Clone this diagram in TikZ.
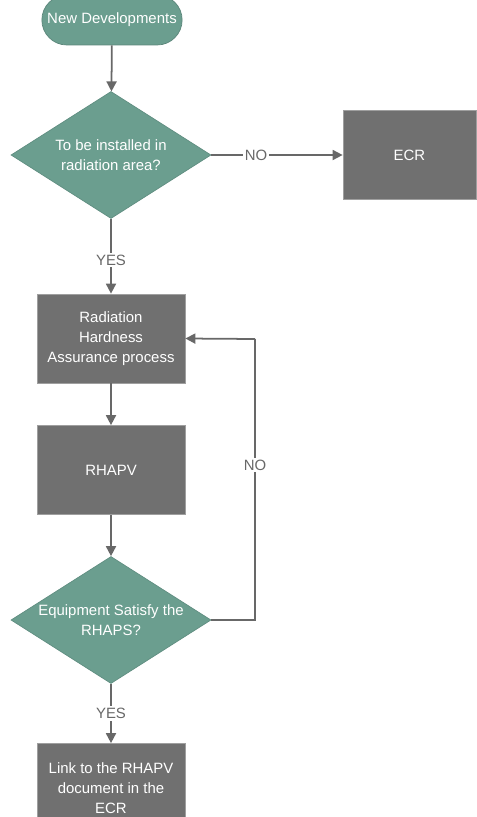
\documentclass[tikz,border=0pt]{standalone}
\usepackage{fontspec}
\setmainfont{Liberation Sans}
\usepackage{xcolor}
\usetikzlibrary{arrows.meta, positioning, shapes.geometric, shapes.misc}
\definecolor{flowteal}{RGB}{107, 158, 143}
\definecolor{flowgray}{RGB}{112, 112, 112}
\definecolor{flowline}{RGB}{104, 104, 104}

\begin{document}
\begin{tikzpicture}[
  every node/.style={font=\fontsize{8.5}{11.3}\selectfont},
  start/.style={rounded rectangle, fill=flowteal, draw=flowteal!85!black, text=white, minimum width=3.04cm, minimum height=1.0cm},
  decision/.style={diamond, aspect=1.59, fill=flowteal, draw=flowteal!90!black, text=white, align=center, inner sep=0pt, minimum width=4.0cm, minimum height=2.54cm},
  box/.style={rectangle, fill=flowgray, draw=gray!75, text=white, align=center, minimum width=2.96cm, minimum height=1.78cm},
  arrow/.style={-{Triangle[length=2mm, width=2mm]}, line width=1pt, color=flowline},
  link/.style={line width=1pt, color=flowline},
  label/.style={fill=white, text=flowline, inner sep=1pt}
]
  \useasboundingbox (0,0) rectangle (9.54,-16.34);

  \node[start] (new) at (2.24, -0.4) {New Developments};

  % Decisions and steps
  \node[decision] (area) at (2.22, -3.1) {To be installed in\\ radiation area?};
  \node[box, minimum width=2.66cm] (ecr) at (8.19, -3.1) {ECR};
  \node[box] (rha) at (2.22, -6.77) {Radiation\\ Hardness\\ Assurance process};
  \node[box] (rhapv) at (2.22, -9.4) {RHAPV};
  \node[decision] (sat) at (2.22, -12.4) {Equipment Satisfy the\\ RHAPS?};
  \node[box] (link) at (2.22, -15.76) {Link to the RHAPV\\ document in the\\ ECR};

  \coordinate (loopB) at (5.1, -12.4);
  \coordinate (loopT) at (5.1, -6.78);

  \draw[arrow] (new) -- (area);
  \draw[arrow] (area) -- (ecr) node[label, pos=0.34] {NO};
  \draw[arrow] (area) -- (rha) node[label, pos=0.55] {YES};
  \draw[arrow] (rha) -- (rhapv);
  \draw[arrow] (rhapv) -- (sat);
  \draw[arrow] (sat) -- (link) node[label, pos=0.5] {YES};
  \draw[link] (sat.east) -- (loopB) -- (loopT) node[label, pos=0.55] {NO};
  \draw[arrow] (loopT) -- (rha.east);

\end{tikzpicture}
\end{document}
